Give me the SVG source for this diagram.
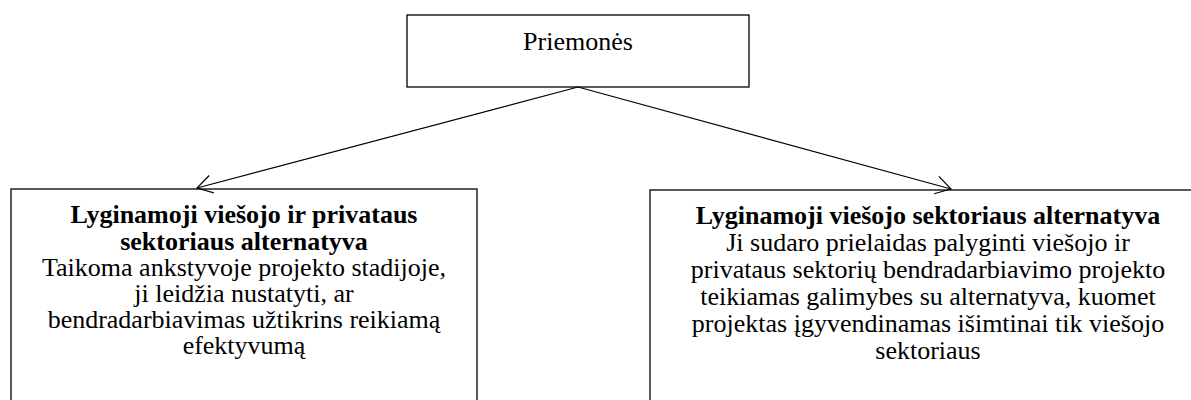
<svg xmlns="http://www.w3.org/2000/svg" width="1191" height="400" viewBox="0 0 1191 400">
<defs>
<marker id="arr" markerWidth="18" markerHeight="20" refX="16" refY="10" orient="auto" markerUnits="userSpaceOnUse">
<path d="M1,1 L16,10 L1,19" fill="none" stroke="#000" stroke-width="1.2"/>
</marker>
</defs>
<style>
.box{fill:#fff;stroke:#000;stroke-width:1.3}
.t{font-family:"Liberation Serif","Times New Roman",serif;font-size:26px;fill:#000;text-anchor:middle}
.b{font-weight:bold}
.c{stroke:#000;stroke-width:1.2;fill:none}
</style>
<rect width="1191" height="400" fill="#fff"/>
<g id="top">
<rect class="box" x="407" y="15" width="342" height="72"/>
<text class="t" x="578" y="50">Priemonės</text>
</g>
<g id="left">
<rect class="box" x="11" y="189" width="466" height="230"/>
<text class="t b" x="244" y="223">Lyginamoji viešojo ir privataus</text>
<text class="t b" x="244" y="250">sektoriaus alternatyva</text>
<text class="t" x="244" y="276">Taikoma ankstyvoje projekto stadijoje,</text>
<text class="t" x="244" y="302">ji leidžia nustatyti, ar</text>
<text class="t" x="244" y="328">bendradarbiavimas užtikrins reikiamą</text>
<text class="t" x="244" y="354">efektyvumą</text>
</g>
<g id="right">
<rect class="box" x="650" y="190" width="560" height="230"/>
<text class="t b" x="928" y="224">Lyginamoji viešojo sektoriaus alternatyva</text>
<text class="t" x="928" y="251">Ji sudaro prielaidas palyginti viešojo ir</text>
<text class="t" x="928" y="278">privataus sektorių bendradarbiavimo projekto</text>
<text class="t" x="928" y="305">teikiamas galimybes su alternatyva, kuomet</text>
<text class="t" x="928" y="332">projektas įgyvendinamas išimtinai tik viešojo</text>
<text class="t" x="928" y="359">sektoriaus</text>
</g>
<g id="connectors">
<line class="c" x1="578" y1="87" x2="197" y2="188" marker-end="url(#arr)"/>
<line class="c" x1="578" y1="87" x2="951" y2="189" marker-end="url(#arr)"/>
</g>
</svg>
